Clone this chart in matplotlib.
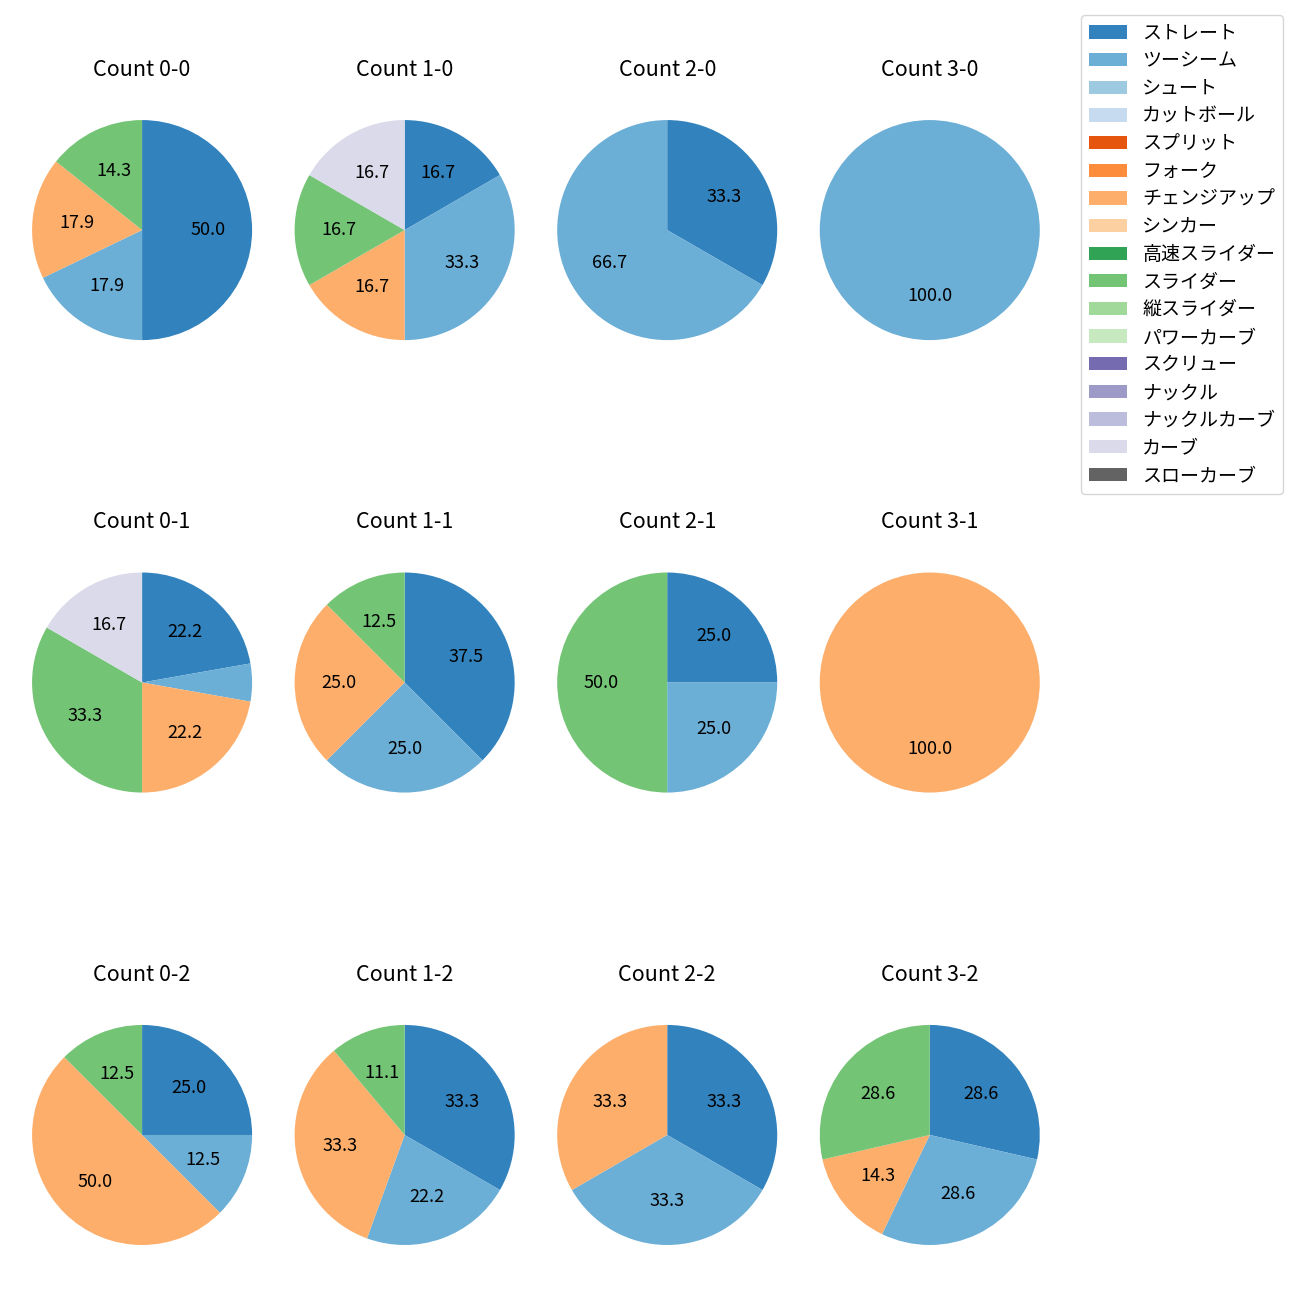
import numpy as np
import matplotlib
matplotlib.use("Agg")
import matplotlib.pyplot as plt
from matplotlib.patches import Patch

plt.rcParams['font.family'] = ['Noto Sans CJK JP', 'DejaVu Sans']

pitch_types = ['ストレート', 'ツーシーム', 'シュート', 'カットボール', 'スプリット', 'フォーク',
               'チェンジアップ', 'シンカー', '高速スライダー', 'スライダー', '縦スライダー',
               'パワーカーブ', 'スクリュー', 'ナックル', 'ナックルカーブ', 'カーブ', 'スローカーブ']

# pitch counts per ball-strike count (only non-zero kept)
counts = {
    '0-0': {'ストレート': 14, 'ツーシーム': 5, 'チェンジアップ': 5, 'スライダー': 4},
    '1-0': {'ストレート': 1, 'ツーシーム': 2, 'チェンジアップ': 1, 'スライダー': 1, 'カーブ': 1},
    '2-0': {'ストレート': 1, 'ツーシーム': 2},
    '3-0': {'ツーシーム': 1},
    '0-1': {'ストレート': 4, 'ツーシーム': 1, 'チェンジアップ': 4, 'スライダー': 6, 'カーブ': 3},
    '1-1': {'ストレート': 3, 'ツーシーム': 2, 'チェンジアップ': 2, 'スライダー': 1},
    '2-1': {'ストレート': 1, 'ツーシーム': 1, 'スライダー': 2},
    '3-1': {'チェンジアップ': 1},
    '0-2': {'ストレート': 2, 'ツーシーム': 1, 'チェンジアップ': 4, 'スライダー': 1},
    '1-2': {'ストレート': 3, 'ツーシーム': 2, 'チェンジアップ': 3, 'スライダー': 1},
    '2-2': {'ストレート': 1, 'ツーシーム': 1, 'チェンジアップ': 1},
    '3-2': {'ストレート': 2, 'ツーシーム': 2, 'チェンジアップ': 1, 'スライダー': 2},
}
strikes = [0, 1, 2]
balls = [0, 1, 2, 3]

cmap = plt.get_cmap('tab20c')
colors = {p: cmap(i) for i, p in enumerate(pitch_types)}

fig, axes = plt.subplots(3, 4, figsize=(13, 13), dpi=100)
plt.subplots_adjust(left=0.0035, right=0.821, top=0.9288, bottom=0.02115,
                    wspace=-0.0455, hspace=0.645)

for r, s in enumerate(strikes):
    for c, b in enumerate(balls):
        ax = axes[r][c]
        key = f'{b}-{s}'
        d = counts[key]
        labels = [p for p in pitch_types if p in d]
        vals = [d[p] for p in labels]
        ax.pie(vals, colors=[colors[p] for p in labels], startangle=90, counterclock=False,
               autopct=lambda pct: f'{pct:.1f}' if pct >= 10 else '',
               textprops={'fontsize': 13})
        ax.set_title(f'Count {key}', fontsize=15.5, pad=12)

handles = [Patch(facecolor=colors[p]) for p in pitch_types]
fig.legend(handles, pitch_types, loc='upper right', bbox_to_anchor=(0.9869, 0.9885),
           borderaxespad=0, fontsize=13.7, labelspacing=0.35)

plt.savefig('out.png')
